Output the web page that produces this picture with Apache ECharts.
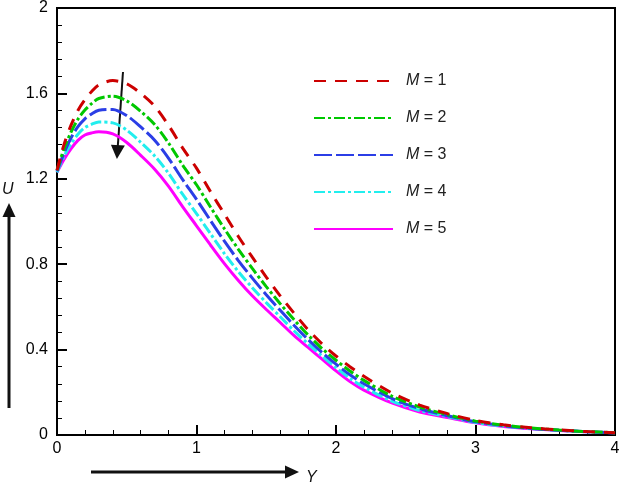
<!DOCTYPE html>
<html>
<head>
<meta charset="utf-8">
<script src="https://cdn.jsdelivr.net/npm/echarts@6/dist/echarts.min.js"></script>
<style>
html,body{margin:0;padding:0;background:#fff;}
#c{width:623px;height:484px;}
</style>
</head>
<body>
<div id="c"></div>
<script>
// ---- data ----
const Yvals = [0, 0.05, 0.1, 0.15, 0.2, 0.25, 0.3, 0.4, 0.5, 0.6, 0.7, 0.8, 0.9, 1.0, 1.1, 1.2, 1.3, 1.4, 1.5, 1.6, 1.7, 1.8, 1.9, 2.0, 2.1, 2.2, 2.4, 2.6, 2.8, 3.0, 3.2, 3.4, 3.6, 3.8, 4.0];
const U_M1 = [1.24, 1.36, 1.45, 1.52, 1.57, 1.61, 1.64, 1.66, 1.645, 1.60, 1.54, 1.45, 1.345, 1.25, 1.14, 1.035, 0.93, 0.833, 0.74, 0.652, 0.57, 0.493, 0.427, 0.37, 0.32, 0.275, 0.197, 0.14, 0.10, 0.068, 0.048, 0.034, 0.024, 0.016, 0.011];
const U_M2 = [1.24, 1.34, 1.418, 1.479, 1.522, 1.553, 1.576, 1.587, 1.565, 1.516, 1.454, 1.367, 1.265, 1.172, 1.068, 0.966, 0.87, 0.78, 0.695, 0.615, 0.54, 0.468, 0.405, 0.35, 0.30, 0.256, 0.182, 0.131, 0.095, 0.065, 0.046, 0.033, 0.023, 0.016, 0.011];
const U_M3 = [1.235, 1.32, 1.391, 1.444, 1.481, 1.505, 1.521, 1.525, 1.496, 1.443, 1.381, 1.296, 1.197, 1.104, 1.005, 0.908, 0.817, 0.735, 0.657, 0.584, 0.513, 0.447, 0.387, 0.332, 0.282, 0.24, 0.171, 0.123, 0.09, 0.062, 0.044, 0.031, 0.022, 0.015, 0.010];
const U_M4 = [1.23, 1.305, 1.363, 1.409, 1.44, 1.456, 1.466, 1.462, 1.428, 1.371, 1.307, 1.225, 1.128, 1.037, 0.943, 0.85, 0.765, 0.69, 0.62, 0.554, 0.487, 0.427, 0.37, 0.315, 0.265, 0.224, 0.159, 0.115, 0.086, 0.059, 0.042, 0.030, 0.022, 0.015, 0.010];
const U_M5 = [1.23, 1.29, 1.34, 1.38, 1.405, 1.415, 1.42, 1.41, 1.37, 1.31, 1.245, 1.165, 1.07, 0.98, 0.89, 0.803, 0.724, 0.652, 0.588, 0.527, 0.465, 0.41, 0.355, 0.30, 0.25, 0.21, 0.15, 0.108, 0.082, 0.057, 0.04, 0.029, 0.021, 0.015, 0.010];
const seriesNames = ['M = 1', 'M = 2', 'M = 3', 'M = 4', 'M = 5'];
const xTicks = [0, 1, 2, 3, 4];
const yTicks = [0, 0.4, 0.8, 1.2, 1.6, 2];
// arrow annotation (data coords): start and end
const arrowStart = [0.473, 1.70];
const arrowEnd = [0.433, 1.325];

const allU = [U_M1, U_M2, U_M3, U_M4, U_M5];
const colors = ['#cc0000', '#00c800', '#2b3ee6', '#22eeee', '#ff00ff'];
const dashes = [[12, 9], [11, 3, 3, 3], [18, 4], [11, 3, 3, 3], 'solid'];

const FONT = '"Liberation Sans", Arial, sans-serif';

const series = allU.map((u, i) => {
  const s = {
    name: seriesNames[i],
    type: 'line',
    data: Yvals.map((y, k) => [y, u[k]]),
    symbol: 'none',
    smooth: 0.3,
    lineStyle: { color: colors[i], width: 3, type: dashes[i], cap: 'butt' },
    itemStyle: { color: colors[i] },
    z: 10 - i
  };
  if (i === 0) {
    s.markLine = {
      silent: true,
      symbol: ['none', 'triangle'],
      symbolSize: 14,
      label: { show: false },
      lineStyle: { color: '#111', width: 2, type: 'solid' },
      data: [[{ coord: arrowStart }, { coord: arrowEnd }]]
    };
  }
  return s;
});

const chart = echarts.init(document.getElementById('c'), null, { renderer: 'canvas' });
chart.setOption({
  animation: false,
  backgroundColor: '#fff',
  grid: {
    left: 57, right: 8, top: 6, bottom: 49,
    show: true, borderColor: '#000', borderWidth: 2, backgroundColor: 'transparent'
  },
  xAxis: {
    type: 'value', min: xTicks[0], max: xTicks[xTicks.length - 1], interval: 1,
    axisLine: { show: true, lineStyle: { color: '#000', width: 2 } },
    axisTick: { show: true, inside: true, length: 10, lineStyle: { color: '#000', width: 2 } },
    minorTick: { show: true, splitNumber: 5, length: 5, lineStyle: { color: '#000', width: 1 } },
    splitLine: { show: false },
    axisLabel: { color: '#000', fontSize: 16, fontFamily: FONT, margin: 6 }
  },
  yAxis: {
    type: 'value', min: yTicks[0], max: yTicks[yTicks.length - 1], interval: 0.4,
    axisLine: { show: true, lineStyle: { color: '#000', width: 2 } },
    axisTick: { show: true, inside: true, length: 10, lineStyle: { color: '#000', width: 2 } },
    minorTick: { show: true, splitNumber: 5, length: 5, lineStyle: { color: '#000', width: 1 } },
    splitLine: { show: false },
    axisLabel: { color: '#000', fontSize: 16, fontFamily: FONT, margin: 9 }
  },
  legend: {
    orient: 'vertical',
    left: 313, top: 73,
    padding: 0,
    itemWidth: 79, itemHeight: 16, itemGap: 21,
    itemStyle: { opacity: 0 },
    data: seriesNames,
    formatter: function (name) { return name.replace('M', '{i|M}'); },
    textStyle: {
      color: '#222', fontSize: 16, fontFamily: FONT, padding: [0, 0, 0, 8],
      rich: { i: { fontStyle: 'italic', fontSize: 16, fontFamily: FONT, color: '#222' } }
    }
  },
  graphic: [
    { type: 'line', shape: { x1: 9, y1: 408, x2: 9, y2: 214 }, style: { stroke: '#111', lineWidth: 3 } },
    { type: 'polygon', shape: { points: [[9, 203], [2.5, 217], [15.5, 217]] }, style: { fill: '#111' } },
    { type: 'text', left: 2, top: 182, style: { text: 'U', font: 'italic 16px ' + FONT, fill: '#111' } },
    { type: 'line', shape: { x1: 91, y1: 472, x2: 288, y2: 472 }, style: { stroke: '#111', lineWidth: 3 } },
    { type: 'polygon', shape: { points: [[299, 472], [285, 465.5], [285, 478.5]] }, style: { fill: '#111' } },
    { type: 'text', left: 306, top: 470, style: { text: 'Y', font: 'italic 16px ' + FONT, fill: '#111' } }
  ],
  series: series
});
</script>
</body>
</html>
